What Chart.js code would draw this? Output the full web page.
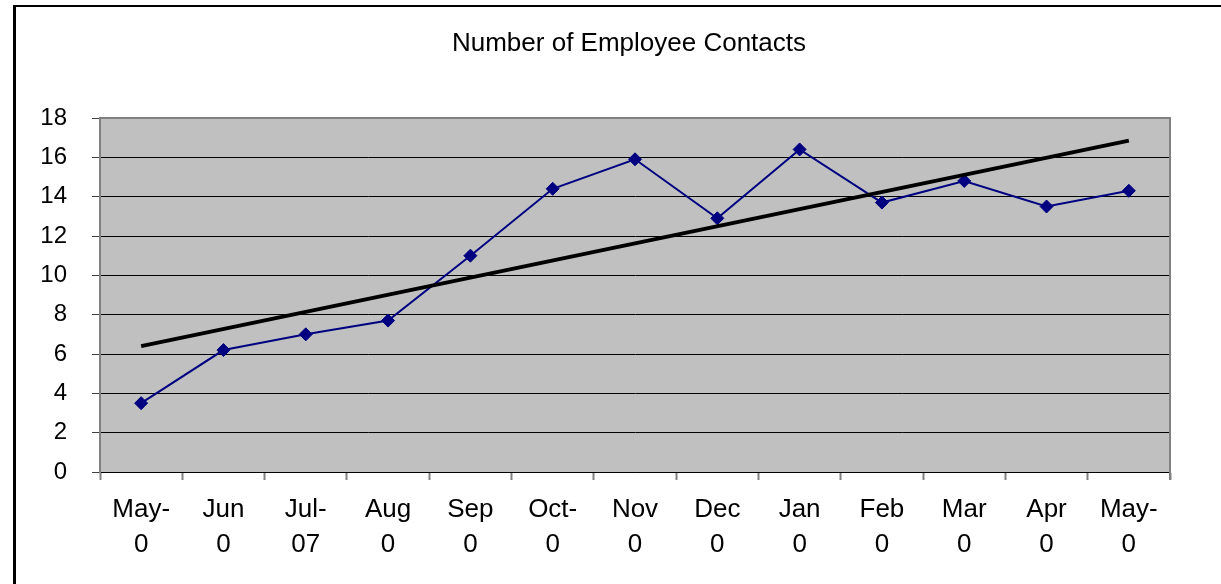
<!DOCTYPE html>
<html>
<head>
<meta charset="utf-8">
<script src="https://cdn.jsdelivr.net/npm/chart.js@4/dist/chart.umd.min.js"></script>
<style>
  html, body { margin: 0; padding: 0; background: #ffffff; overflow: hidden; }
  #wrap { position: absolute; left: 0; top: 0; width: 1221px; height: 584px; }
</style>
</head>
<body>
<div id="wrap"><canvas id="c" width="1221" height="584"></canvas></div>
<script>
// ---- data ----
const chartTitle = "Number of Employee Contacts";
const monthLabels = [["May-","0"],["Jun","0"],["Jul-","07"],["Aug","0"],["Sep","0"],["Oct-","0"],["Nov","0"],["Dec","0"],["Jan","0"],["Feb","0"],["Mar","0"],["Apr","0"],["May-","0"]];
const contacts = [3.5, 6.2, 7.0, 7.7, 11.0, 14.4, 15.9, 12.9, 16.4, 13.7, 14.8, 13.5, 14.3];
const trendStart = 6.4;
const trendEnd = 16.85;
const trendLine = [trendStart, null, null, null, null, null, null, null, null, null, null, null, trendEnd];
const yTicks = [0, 2, 4, 6, 8, 10, 12, 14, 16, 18];

const FONT = "'Liberation Sans', Arial, sans-serif";

const framePlugin = {
  id: 'frame',
  beforeDraw(chart) {
    const ctx = chart.ctx;
    const a = chart.chartArea;
    ctx.save();
    ctx.fillStyle = '#ffffff';
    ctx.fillRect(0, 0, chart.width, chart.height);
    // outer border (left + top)
    ctx.fillStyle = '#000000';
    ctx.fillRect(13, 5, 3, chart.height - 5);
    ctx.fillRect(13, 5, chart.width - 13, 2);
    // plot area background
    ctx.fillStyle = '#c0c0c0';
    ctx.fillRect(a.left, a.top, a.right - a.left, a.bottom - a.top);
    // title
    ctx.fillStyle = '#000000';
    ctx.font = "26px " + FONT;
    ctx.textAlign = 'center';
    ctx.textBaseline = 'middle';
    ctx.fillText(chartTitle, 629, 44);
    ctx.restore();
  },
  beforeDatasetsDraw(chart) {
    const ctx = chart.ctx;
    const a = chart.chartArea;
    ctx.save();
    ctx.strokeStyle = '#808080';
    ctx.lineWidth = 2;
    ctx.beginPath();
    ctx.moveTo(a.left, a.bottom);
    ctx.lineTo(a.left, a.top);
    ctx.lineTo(a.right, a.top);
    ctx.lineTo(a.right, a.bottom + 8);
    ctx.stroke();
    ctx.restore();
  }
};

new Chart(document.getElementById('c'), {
  type: 'line',
  data: {
    labels: monthLabels,
    datasets: [
      {
        label: 'Trend',
        data: trendLine,
        spanGaps: true,
        borderColor: '#000000',
        borderWidth: 4,
        pointRadius: 0,
        fill: false,
        order: 0
      },
      {
        label: 'Contacts',
        data: contacts,
        borderColor: '#000080',
        backgroundColor: '#000080',
        borderWidth: 2,
        pointStyle: 'rectRot',
        pointRadius: 6.5,
        pointBorderWidth: 1,
        pointBorderColor: '#000080',
        pointBackgroundColor: '#000080',
        fill: false,
        tension: 0,
        order: 1
      }
    ]
  },
  options: {
    responsive: false,
    animation: false,
    devicePixelRatio: 1,
    layout: { padding: { left: 0, right: 51, top: 118, bottom: 0 } },
    plugins: {
      legend: { display: false },
      title: { display: false },
      tooltip: { enabled: false }
    },
    scales: {
      x: {
        type: 'category',
        offset: true,
        grid: {
          offset: true,
          drawOnChartArea: false,
          drawTicks: true,
          tickLength: 8,
          tickColor: '#808080',
          tickWidth: 2
        },
        border: { display: true, color: '#000000', width: 1 },
        ticks: {
          color: '#000000',
          font: { family: FONT, size: 26, lineHeight: 1.35 },
          padding: 12,
          maxRotation: 0,
          autoSkip: false
        },
        afterFit(scale) { scale.height = 112; }
      },
      y: {
        min: 0,
        max: 18,
        afterBuildTicks(scale) { scale.ticks = yTicks.map(v => ({ value: v })); },
        grid: {
          color: '#000000',
          lineWidth: 1,
          drawTicks: true,
          tickLength: 8,
          tickColor: '#404040'
        },
        border: { display: true, color: '#808080', width: 2 },
        ticks: {
          color: '#000000',
          font: { family: FONT, size: 24 },
          padding: 25
        },
        afterFit(scale) { scale.width = 100; }
      }
    }
  },
  plugins: [framePlugin]
});
</script>
</body>
</html>
